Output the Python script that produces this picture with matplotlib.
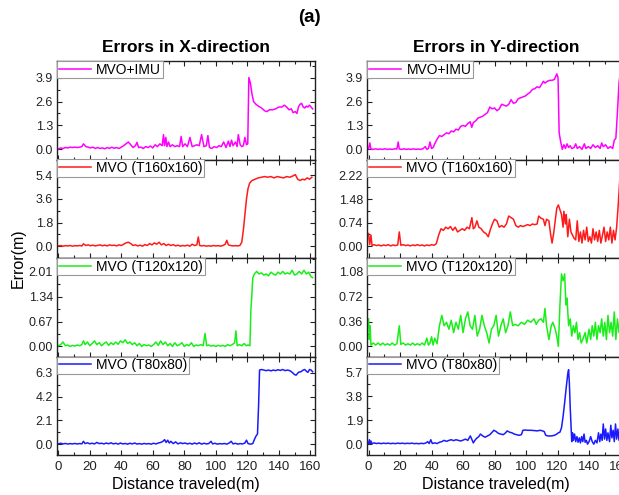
import matplotlib
matplotlib.use("Agg")
import matplotlib.pyplot as plt
from matplotlib.ticker import MultipleLocator, FixedLocator

plt.rcParams['font.family'] = ['Liberation Sans', 'DejaVu Sans']

# ---------------- data ----------------
series_labels = ["MVO+IMU", "MVO (T160x160)", "MVO (T120x120)", "MVO (T80x80)"]
series_colors = ["#ff00ff", "#ff1a1a", "#1aee1a", "#1a1aff"]
x_ticks = [0, 20, 40, 60, 80, 100, 120, 140, 160]

yticks_x = [[0.0, 1.3, 2.6, 3.9], [0.0, 1.8, 3.6, 5.4], [0.00, 0.67, 1.34, 2.01], [0.0, 2.1, 4.2, 6.3]]
yticks_y = [[0.0, 1.3, 2.6, 3.9], [0.00, 0.74, 1.48, 2.22], [0.00, 0.36, 0.72, 1.08], [0.0, 1.9, 3.8, 5.7]]
ytick_fmt_x = ["%.1f", "%.1f", "%.2f", "%.1f"]
ytick_fmt_y = ["%.1f", "%.2f", "%.2f", "%.1f"]
ylims_x = [(-0.55, 4.8), (-0.9, 6.6), (-0.27, 2.38), (-0.96, 7.75)]
ylims_y = [(-0.55, 4.8), (-0.37, 2.73), (-0.145, 1.28), (-0.86, 6.95)]

imu_x = [(0,0.02),(1.5,0.08),(3,0.05),(4.5,0.1),(6,0.08),(7.5,0.12),(9,0.1),(10.5,0.12),(12,0.1),(13.5,0.12),(15,0.15),(16,0.3),(17.5,0.15),(19,0.12),(20.5,0.08),(22,0.12),(23.5,0.05),(25,0.1),(26.5,0.05),(28,0.08),(29.5,0.03),(31,0.1),(32.5,0.05),(34,0.12),(35.5,0.06),(37,0.1),(38.5,0.05),(40,0.12),(41.5,0.2),(43,0.3),(44.5,0.4),(46,0.25),(47.5,0.1),(49,0.2),(50,0.38),(51,0.1),(52.5,0.12),(54,0.05),(55.5,0.15),(57,0.1),(58.5,0.18),(60,0.08),(61.5,0.25),(63,0.15),(64.5,0.3),(66,0.2),(66.8,0.8),(67.5,0.2),(68.3,0.65),(69,0.15),(70,0.4),(71,0.15),(72.5,0.25),(74,0.15),(75.5,0.2),(77,0.15),(78,0.7),(79,0.15),(80.5,0.3),(82,0.15),(83.6,0.65),(85,0.15),(86.5,0.2),(88,0.25),(89.5,0.2),(91,0.8),(92.5,0.15),(94,0.2),(95,0.75),(96,0.1),(97.5,0.05),(99,0.15),(100.5,0.1),(102,0.2),(103.5,0.15),(105,0.4),(106.5,0.1),(108,0.45),(109,0.15),(110,0.5),(111,0.2),(112.5,0.4),(113.5,0.15),(114.3,0.8),(115.5,0.25),(116.5,0.15),(117.5,0.2),(118.5,0.65),(119.5,0.25),(120.3,0.3),(121,3.9),(122,3.6),(123,3.0),(124,2.6),(125.5,2.45),(127,2.35),(129,2.25),(131,2.1),(132.5,2.05),(134,2.15),(136,2.15),(138,2.2),(140,2.3),(142,2.3),(143.5,2.4),(145,2.3),(146.5,2.15),(148,2.2),(149,2.0),(150.5,2.05),(151.5,1.95),(152.5,2.3),(153.5,2.45),(154.5,2.5),(155.5,2.3),(156.5,2.25),(157.5,2.35),(158.5,2.3),(159.5,2.4),(160.5,2.3),(161.5,2.2)]

imu_y = [(0,0.02),(0.8,0.35),(1.5,0.02),(3,0.0),(4.5,0.03),(6,0.0),(7.5,0.02),(9,0.0),(10.5,0.03),(12,0.0),(13.5,0.02),(15,0.0),(16.5,0.03),(18,0.02),(18.8,0.4),(19.5,0.02),(21,0.0),(22.5,0.03),(24,0.0),(25.5,0.02),(27,0.0),(28.5,0.03),(30,0.0),(31.5,0.02),(33,0.0),(34.5,0.03),(36,0.15),(37,0.0),(38,0.05),(39,0.4),(40,0.05),(41,0.1),(42,0.3),(43.5,0.55),(45,0.75),(46.5,0.7),(48,0.8),(49.5,0.9),(51,0.85),(52.5,1.0),(54,0.95),(55.5,1.1),(57,1.05),(58.5,1.25),(60,1.3),(61.5,1.25),(63,1.4),(64.5,1.5),(65.5,1.2),(66.5,1.45),(68,1.55),(69.5,1.7),(71,1.75),(72.5,1.8),(74,1.9),(75.5,2.0),(77,2.3),(78.5,2.2),(80,2.25),(81.5,2.1),(83,2.2),(84.5,2.45),(86,2.4),(87.5,2.35),(89,2.45),(90.5,2.7),(92,2.5),(93.5,2.55),(95,2.75),(96.5,2.8),(98,2.85),(99.5,2.9),(101,3.0),(102.5,3.1),(104,3.25),(105.5,3.3),(107,3.4),(108.5,3.35),(110,3.55),(111,3.7),(112,3.6),(113.5,3.7),(115,3.75),(116.5,3.75),(118,3.8),(119.5,4.1),(120.3,3.9),(121,0.9),(122,0.4),(123,0.0),(124,0.25),(125,0.05),(126,0.3),(127,0.1),(128,0.2),(129,0.05),(130.5,0.1),(131.5,0.3),(132.5,0.05),(134,0.15),(135.5,0.0),(137,0.3),(138,0.05),(139.5,0.15),(141,0.05),(142.5,0.25),(144,0.1),(145.5,0.2),(147,0.05),(148,0.35),(149,0.15),(150.5,0.25),(152,0.05),(153.5,0.15),(155,0.05),(156,0.5),(157,0.6),(158,2.0),(159,3.6),(160,4.3)]

t160_x = [(0,0.02),(1.5,0.05),(3,0.0),(4.5,0.04),(6,0.02),(7.5,0.05),(9,0.0),(10.5,0.04),(12,0.02),(13.5,0.05),(15,0.02),(16,0.18),(17.5,0.05),(19,0.1),(20.5,0.03),(22,0.08),(23.5,0.02),(25,0.06),(26.5,0.1),(28,0.03),(29.5,0.08),(31,0.02),(32.5,0.1),(34,0.05),(35.5,0.08),(37,0.02),(38.5,0.1),(40,0.05),(41.5,0.15),(43,0.25),(44.5,0.3),(46,0.2),(47.5,0.05),(49,0.1),(50.5,0.02),(52,0.08),(53.5,0.0),(55,0.12),(56.5,0.05),(58,0.2),(59.5,0.1),(61,0.25),(62.5,0.15),(64,0.3),(65.5,0.1),(67,0.2),(68.5,0.05),(70,0.15),(71.5,0.05),(73,0.12),(74.5,0.02),(76,0.08),(77.5,0.0),(79,0.05),(80.5,0.02),(82,0.08),(83.5,0.0),(85,0.15),(86.5,0.05),(88,0.1),(88.9,0.7),(89.8,0.05),(91,0.02),(92.5,0.05),(94,0.0),(95.5,0.03),(97,0.0),(98.5,0.05),(100,0.02),(101.5,0.04),(103,0.0),(104.5,0.05),(106,0.15),(107,0.45),(108,0.1),(109.5,0.05),(111,0.02),(112.5,0.04),(114,0.02),(115.3,0.05),(116.5,0.3),(117.5,1.2),(118.5,2.4),(119.5,3.6),(120.5,4.4),(121.5,4.8),(123,5.0),(125,5.1),(127,5.2),(129,5.25),(131,5.3),(133,5.25),(135,5.3),(137,5.2),(139,5.3),(141,5.25),(143,5.2),(145,5.3),(147,5.25),(149,5.35),(150.5,5.45),(152,5.1),(153.5,5.0),(155,5.1),(156.5,5.05),(158,5.2),(159.5,5.1),(161,5.25)]

t160_y = [(0,0.4),(0.7,0.05),(1.5,0.35),(2.2,0.02),(3.5,0.05),(5,0.02),(6.5,0.04),(8,0.01),(9.5,0.04),(11,0.02),(12.5,0.05),(14,0.01),(15.5,0.04),(17,0.02),(18.5,0.04),(19.5,0.45),(20.5,0.03),(22,0.05),(23.5,0.02),(25,0.04),(26.5,0.01),(28,0.04),(29.5,0.02),(31,0.05),(32.5,0.02),(34,0.04),(35.5,0.01),(37,0.04),(38.5,0.02),(40,0.05),(41.5,0.03),(43,0.08),(44.5,0.35),(46,0.55),(47.5,0.5),(49,0.6),(50.5,0.55),(52,0.62),(53.5,0.5),(55,0.6),(56.5,0.45),(58,0.5),(59.5,0.55),(61,0.5),(62.5,0.6),(64,0.55),(65.6,0.9),(66.5,0.55),(67.5,0.6),(68.8,0.8),(70,0.6),(71.5,0.55),(73,0.45),(74.5,0.4),(76,0.3),(77.5,0.55),(79,0.75),(80,0.85),(81.5,0.8),(83,0.6),(84.5,0.65),(86,0.6),(87.5,0.7),(89,0.95),(90.5,0.9),(92,0.85),(93.5,0.65),(95,0.6),(96.5,0.65),(98,0.62),(99.5,0.65),(101,0.68),(102.5,0.65),(104,0.7),(105.5,0.68),(107,0.7),(108,0.95),(109.5,0.88),(111,0.85),(112,0.65),(113,0.85),(114.5,0.8),(115.5,0.4),(116.5,0.1),(117.5,0.4),(118.5,0.8),(119.5,1.2),(120.5,1.3),(121.5,1.15),(122.5,1.0),(123.5,0.6),(124,1.1),(125,0.7),(125.5,1.0),(126.5,0.3),(127.5,0.85),(128.5,0.45),(129.5,0.35),(130.5,0.25),(131.5,0.2),(132.5,0.8),(133.5,0.15),(134.5,0.45),(135.5,0.1),(136.5,0.5),(137.5,0.2),(138.5,0.6),(139.5,0.15),(140.5,0.3),(141.5,0.1),(142.5,0.55),(143.5,0.2),(144.5,0.45),(145.5,0.15),(146.5,0.5),(147.5,0.1),(148.5,0.35),(149.5,0.6),(150.5,0.15),(151.5,0.45),(152.5,0.2),(153.5,0.6),(154.5,0.1),(155.5,0.5),(156.5,0.2),(157.5,0.6),(158.5,1.3),(159.5,2.1),(160.5,2.4)]

t120_x = [(0,0.02),(1.5,0.05),(3,0.12),(4.5,0.02),(6,0.04),(7.5,0.0),(9,0.03),(10.5,0.01),(12,0.04),(13.5,0.02),(15,0.05),(16,0.15),(17,0.05),(18.5,0.12),(20,0.02),(21.5,0.08),(23,0.15),(24.5,0.05),(26,0.1),(27.5,0.02),(29,0.08),(30.5,0.12),(32,0.03),(33.5,0.1),(35,0.05),(36.5,0.12),(38,0.06),(39.5,0.15),(41,0.1),(42.5,0.18),(44,0.08),(45.5,0.12),(47,0.05),(48.5,0.1),(50,0.02),(51.5,0.08),(53,0.0),(54.5,0.05),(56,0.02),(57.5,0.04),(59,0.0),(60.5,0.05),(62,0.12),(63.5,0.03),(65,0.15),(66.5,0.05),(68,0.12),(69.5,0.02),(71,0.08),(72.5,0.0),(74,0.1),(75.5,0.02),(77,0.05),(78.5,0.1),(80,0.0),(81.5,0.05),(83,0.02),(84.5,0.1),(86,0.0),(87.5,0.04),(89,0.02),(90.5,0.05),(92,0.02),(93.2,0.35),(94.2,0.02),(95.5,0.04),(97,0.01),(98.5,0.03),(100,0.0),(101.5,0.03),(103,0.01),(104.5,0.03),(106,0.0),(107.5,0.05),(109,0.02),(110.5,0.05),(112,0.1),(112.8,0.42),(113.6,0.02),(115,0.05),(116.5,0.02),(118,0.08),(119.5,0.02),(120.5,0.04),(121.7,0.02),(122.3,1.0),(122.8,1.3),(123.5,1.85),(124.5,1.95),(126,2.02),(127.5,1.95),(129,1.98),(130.5,1.92),(132,1.95),(133.5,1.9),(135,2.0),(136.5,1.95),(138,1.92),(139.5,2.0),(141,1.95),(142.5,2.02),(144,1.95),(145.5,1.98),(147,1.95),(148.5,2.05),(150,1.92),(151.5,1.95),(153,2.02),(154.5,1.95),(156,2.05),(157.5,1.95),(159,2.0),(160.5,1.88),(161.5,1.85)]

t120_y = [(0,0.4),(0.5,0.1),(1,0.3),(1.5,0.02),(3,0.05),(4.5,0.02),(6,0.05),(7.5,0.02),(9,0.05),(10.5,0.02),(12,0.04),(13.5,0.02),(15,0.05),(16.5,0.02),(18,0.04),(19.5,0.3),(20.5,0.03),(22,0.05),(23.5,0.02),(25,0.04),(26.5,0.02),(28,0.05),(29.5,0.02),(31,0.04),(32.5,0.02),(34,0.05),(35.5,0.02),(37,0.12),(38,0.02),(39,0.05),(40,0.14),(41,0.02),(42,0.12),(43.5,0.04),(45,0.3),(46.5,0.45),(48,0.3),(49.5,0.35),(51,0.25),(52.5,0.38),(54,0.2),(55.5,0.35),(57,0.25),(58.5,0.45),(60,0.2),(61.5,0.4),(63,0.5),(64.5,0.3),(66,0.25),(67.5,0.45),(69,0.15),(70.5,0.25),(72,0.45),(73.5,0.3),(75,0.2),(76.5,0.05),(78,0.25),(79.5,0.3),(81,0.45),(82.5,0.15),(84,0.3),(85.5,0.4),(87,0.2),(88.5,0.3),(90,0.5),(91.5,0.3),(93,0.32),(95,0.3),(97,0.35),(99,0.32),(101,0.38),(103,0.35),(105,0.4),(106.5,0.32),(108,0.38),(109.5,0.4),(111,0.35),(112,0.55),(113,0.3),(114.5,0.1),(116,0.3),(117,0.35),(118.5,0.25),(119.5,0.15),(120.5,0.0),(121.5,0.6),(122.5,1.05),(123.5,0.95),(124.5,1.05),(125.3,0.6),(126,0.7),(127,0.3),(128,0.4),(129,0.15),(130,0.3),(131,0.2),(132,0.35),(133,0.1),(134,0.2),(135,0.05),(136,0.1),(137.5,0.2),(138.5,0.05),(140,0.25),(141,0.1),(142,0.3),(143,0.15),(144,0.35),(145,0.1),(146,0.3),(147,0.2),(148,0.4),(149,0.15),(150,0.35),(151,0.1),(152,0.45),(153,0.2),(154,0.35),(155,0.15),(156,0.5),(157,0.1),(158,0.4),(159,0.2),(160,0.5)]

t80_x = [(0,0.02),(1.5,0.08),(3,0.02),(4.5,0.06),(6,0.01),(7.5,0.05),(9,0.02),(10.5,0.06),(12,0.02),(13.5,0.05),(15,0.03),(16,0.25),(17,0.05),(18.5,0.12),(20,0.03),(21.5,0.08),(23,0.02),(24.5,0.15),(26,0.05),(27.5,0.08),(29,0.02),(30.5,0.1),(32,0.03),(33.5,0.12),(35,0.02),(36.5,0.08),(38,0.0),(39.5,0.1),(41,0.02),(42.5,0.06),(44,0.0),(45.5,0.08),(47,0.02),(48.5,0.1),(50,0.01),(51.5,0.05),(53,0.0),(54.5,0.06),(56,0.02),(57.5,0.05),(59,0.0),(60.5,0.08),(62,0.02),(63.5,0.1),(65,0.15),(66.5,0.25),(67.5,0.4),(68.5,0.15),(69.5,0.35),(70.5,0.1),(71.5,0.25),(73,0.05),(74.5,0.2),(76,0.02),(77.5,0.12),(79,0.05),(80.5,0.1),(82,0.02),(83.5,0.08),(85,0.0),(86.5,0.1),(88,0.02),(89.5,0.12),(91,0.0),(92.5,0.08),(94,0.02),(95.5,0.05),(97,0.25),(98,0.02),(99.5,0.08),(101,0.0),(102.5,0.05),(104,0.02),(105.5,0.06),(107,0.0),(108.5,0.1),(109.8,0.25),(111,0.02),(112.5,0.08),(114,0.0),(115.5,0.05),(117,0.02),(118.5,0.1),(119.5,0.35),(120.5,0.05),(122,0.0),(123.5,0.05),(124.5,0.4),(125.5,0.7),(126.5,0.9),(127.2,3.5),(127.8,6.55),(129,6.6),(130.5,6.55),(132,6.5),(133.5,6.55),(135,6.48),(136.5,6.55),(138,6.5),(139.5,6.58),(141,6.52),(142.5,6.6),(144,6.5),(145.5,6.55),(147,6.5),(148.5,6.35),(150,6.15),(151,6.1),(152.5,6.35),(154,6.4),(155.5,6.55),(156.5,6.6),(157.5,6.45),(158.5,6.35),(159.5,6.6),(160.5,6.55),(161.5,6.4)]

t80_y = [(0,0.05),(0.5,0.35),(1,0.05),(1.5,0.25),(2,0.05),(3.5,0.1),(5,0.05),(6.5,0.08),(8,0.04),(9.5,0.08),(11,0.05),(12.5,0.08),(14,0.04),(15.5,0.07),(17,0.04),(18.5,0.08),(20,0.05),(21.5,0.08),(23,0.04),(24.5,0.07),(26,0.05),(27.5,0.08),(29,0.04),(30.5,0.06),(32,0.03),(33.5,0.07),(35,0.04),(36.5,0.1),(37.5,0.2),(38.5,0.05),(39.5,0.35),(40.5,0.05),(42,0.1),(43.5,0.05),(45,0.15),(46.5,0.2),(48,0.3),(49.5,0.22),(51,0.3),(52.5,0.35),(54,0.28),(55.5,0.35),(57,0.3),(58.5,0.25),(60,0.32),(61.5,0.4),(63,0.3),(64.6,0.65),(65.5,0.4),(66.5,0.1),(67.5,0.3),(68.5,0.45),(70,0.6),(71,0.8),(72.5,0.65),(74,0.55),(75.5,0.65),(77,0.75),(78.5,0.95),(79.5,1.1),(81,1.0),(82.5,0.85),(84,0.8),(85.5,0.75),(87,0.9),(88,1.05),(89.5,0.95),(91,0.9),(92.5,0.8),(94,0.75),(95.5,0.7),(97,0.75),(98,1.1),(99.5,1.12),(101,1.1),(103,1.1),(105,1.08),(107,1.05),(109,1.1),(110.5,1.05),(111.5,1.0),(112.5,0.7),(114,0.65),(116,0.65),(118,0.7),(119.5,0.8),(120.5,0.9),(121.5,0.95),(122.5,1.3),(123.5,2.2),(124.5,3.3),(125.5,4.5),(126.5,5.6),(127,5.9),(127.5,4.8),(128,3.0),(128.5,1.5),(129,0.2),(129.5,0.9),(130,0.3),(130.8,0.8),(131.5,0.2),(132.3,0.6),(133,0.15),(133.8,0.5),(134.5,0.1),(135.3,0.6),(136,0.2),(136.8,0.8),(137.5,0.15),(138.3,0.3),(139,0.0),(140,0.2),(141,0.6),(142,0.2),(143,0.0),(144,0.3),(145,0.1),(146,0.9),(146.8,0.2),(147.5,0.8),(148.3,0.3),(149,1.6),(149.8,0.4),(150.5,1.2),(151.3,0.3),(152,0.9),(153,0.2),(153.8,1.5),(154.5,0.5),(155.3,1.1),(156,0.2),(156.8,1.6),(157.5,0.4),(158.3,1.2),(159,0.3),(160,1.6),(161,0.6)]

x_series = [imu_x, t160_x, t120_x, t80_x]
y_series = [imu_y, t160_y, t120_y, t80_y]

# ---------------- layout ----------------
W, H = 619, 495
fig = plt.figure(figsize=(W / 100, H / 100), dpi=100)

col_left_px = [57, 367.3]
ax_w_px = 258
top_px, bot_px = 61, 455
row_h_px = (bot_px - top_px) / 4


def style_axis(ax, yt, fmt, ylim, bottom):
    ax.set_xlim(-0.8, 163)
    ax.set_ylim(*ylim)
    ax.xaxis.set_major_locator(FixedLocator(x_ticks))
    ax.xaxis.set_minor_locator(MultipleLocator(10))
    ax.yaxis.set_major_locator(FixedLocator(yt))
    step = yt[1] - yt[0]
    ax.yaxis.set_minor_locator(MultipleLocator(step / 2))
    ax.set_yticklabels([fmt % v for v in yt])
    ax.tick_params(which='both', direction='in', top=True, right=True,
                   width=0.8, colors='#222222', labelcolor='#222222')
    ax.tick_params(which='major', length=3.5, labelsize=9, pad=3)
    ax.tick_params(which='minor', length=2.2)
    if bottom:
        ax.set_xticklabels([str(v) for v in x_ticks])
        ax.tick_params(axis='x', labelsize=9.5, pad=4)
    else:
        ax.tick_params(axis='x', labelbottom=False)
    for s in ax.spines.values():
        s.set_linewidth(1.0)
        s.set_color('#222222')


for c in range(2):
    data = x_series if c == 0 else y_series
    yts = yticks_x if c == 0 else yticks_y
    fmts = ytick_fmt_x if c == 0 else ytick_fmt_y
    ylims = ylims_x if c == 0 else ylims_y
    for r in range(4):
        top = top_px + r * row_h_px
        rect = [col_left_px[c] / W, 1 - (top + row_h_px) / H, ax_w_px / W, row_h_px / H]
        ax = fig.add_axes(rect)
        xs = [p[0] for p in data[r]]
        ys = [p[1] for p in data[r]]
        ax.plot(xs, ys, color=series_colors[r], lw=1.1, label=series_labels[r])
        style_axis(ax, yts[r], fmts[r], ylims[r], r == 3)
        leg = ax.legend(loc='upper left', fontsize=10, frameon=True, fancybox=False,
                        borderaxespad=0.0, borderpad=0.12, handlelength=2.3,
                        handletextpad=0.4, framealpha=1)
        leg.get_frame().set_edgecolor('#999999')
        leg.get_frame().set_linewidth(0.8)
        if r == 3:
            ax.set_xlabel("Distance traveled(m)", fontsize=11.5, labelpad=3)

# titles
cx0 = (col_left_px[0] + ax_w_px / 2) / W
cx1 = (col_left_px[1] + ax_w_px / 2) / W
fig.text(0.5, 1 - 18 / H, "(a)", ha='center', va='center', fontsize=13.5, fontweight='bold')
fig.text(cx0, 1 - 48 / H, "Errors in X-direction", ha='center', va='center', fontsize=12.5, fontweight='bold')
fig.text(cx1, 1 - 48 / H, "Errors in Y-direction", ha='center', va='center', fontsize=12.5, fontweight='bold')
fig.text(18 / W, 1 - 258 / H, "Error(m)", ha='center', va='center', rotation=90, fontsize=11.5)

fig.savefig("out.png", dpi=100)
